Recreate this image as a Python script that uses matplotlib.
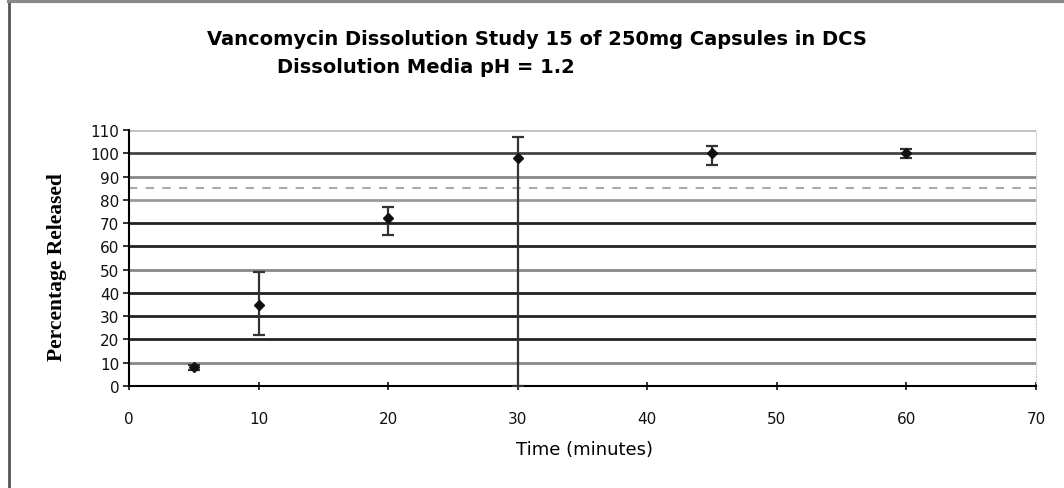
import matplotlib
matplotlib.use("Agg")
import matplotlib.pyplot as plt
from matplotlib.lines import Line2D

# Data
time_min = [5, 10, 20, 30, 45, 60]
pct_released = [8, 35, 72, 98, 100, 100]
err_lower = [1, 13, 7, 98, 5, 2]
err_upper = [1, 14, 5, 9, 3, 2]

title_lines = ["Vancomycin Dissolution Study 15 of 250mg Capsules in DCS",
               "Dissolution Media pH = 1.2"]
x_label = "Time (minutes)"
y_label = "Percentage Released"
x_ticks = [0, 10, 20, 30, 40, 50, 60, 70]
y_ticks = [0, 10, 20, 30, 40, 50, 60, 70, 80, 90, 100, 110]
ref_line = 85

fig = plt.figure(figsize=(10.64, 4.89), dpi=100)
ax = fig.add_axes([0.1212, 0.2086, 0.9737 - 0.1212, 0.7321 - 0.2086])

grid_colors = ["#111111", "#888888", "#222222", "#222222", "#222222", "#888888",
               "#222222", "#222222", "#999999", "#888888", "#444444", "#c0c0c0"]
for yv, c in zip(y_ticks, grid_colors):
    ax.axhline(yv, color=c, lw=2.0, zorder=1)
ax.axhline(ref_line, color="#aaaaaa", lw=1.5, ls=(0, (4, 4)), zorder=1)

ax.errorbar(time_min, pct_released, yerr=[err_lower, err_upper], fmt="D",
            color="#111111", ecolor="#333333", elinewidth=1.6, capsize=4,
            capthick=1.6, markersize=5, zorder=3)

ax.set_xlim(0, 70)
ax.set_ylim(0, 110)
ax.set_xticks(x_ticks)
ax.set_yticks(y_ticks)
ax.tick_params(axis="both", length=4, width=1.2, colors="#111111")
ax.tick_params(axis="y", labelsize=11, pad=3)
ax.tick_params(axis="x", labelsize=11, pad=15, direction="inout", length=6)
for lab in ax.get_xticklabels() + ax.get_yticklabels():
    lab.set_fontfamily("DejaVu Sans")
ax.spines["top"].set_visible(False)
ax.spines["right"].set_color("#cccccc")
ax.spines["right"].set_linestyle(":")
ax.spines["left"].set_linewidth(1.5)
ax.spines["bottom"].set_linewidth(1.5)

ax.set_xlabel(x_label, fontsize=13, fontfamily="DejaVu Sans")
ax.xaxis.set_label_coords(0.502, -0.212)
ax.set_ylabel(y_label, fontsize=15.5, fontfamily="Liberation Serif",
              fontweight="bold")
ax.yaxis.set_label_coords(-0.068, 0.469)

fig.text(0.505, 0.920, title_lines[0], ha="center", va="center",
         fontsize=14, fontfamily="DejaVu Sans", fontweight="bold")
fig.text(0.400, 0.861, title_lines[1], ha="center", va="center",
         fontsize=14, fontfamily="DejaVu Sans", fontweight="bold")

# page border of the scanned chart
fig.add_artist(Line2D([0.008, 0.008], [0.0, 0.995], transform=fig.transFigure,
                      color="#555555", lw=2))
fig.add_artist(Line2D([0.008, 1.0], [0.995, 0.995], transform=fig.transFigure,
                      color="#888888", lw=3))

fig.savefig("out.png", dpi=100)
